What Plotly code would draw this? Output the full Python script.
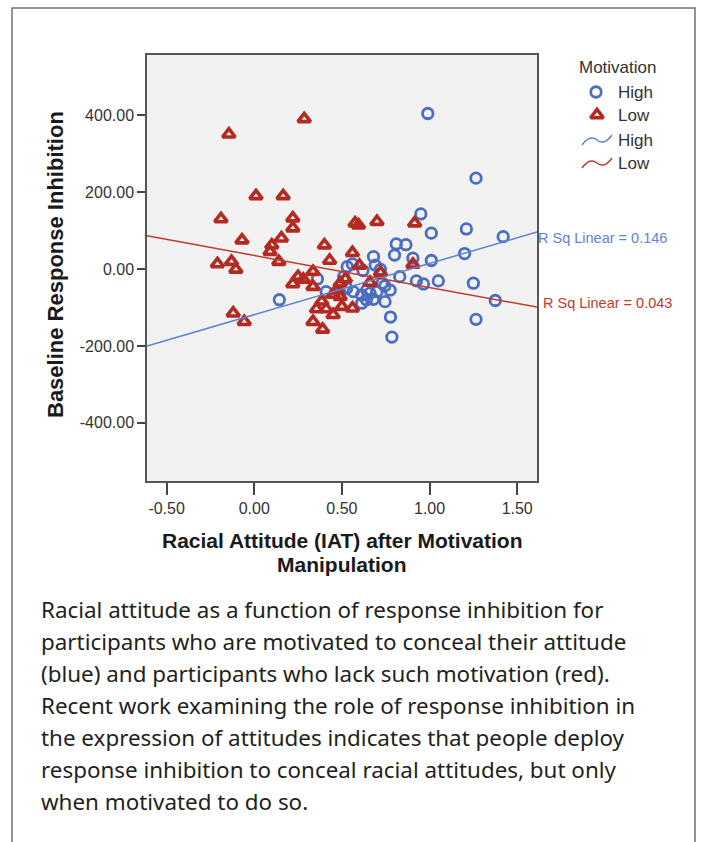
import plotly.graph_objects as go

W, H = 701, 842

# ---------------- data ----------------
high_x = [0.99, 1.265, 0.95, 1.01, 1.21, 1.42, 0.81, 0.865, 0.80, 0.905, 1.01, 1.20, 0.68,
          0.83, 0.925, 0.965, 1.05, 1.25, 1.375, 1.265, 0.777, 0.785, 0.143, 0.36, 0.41,
          0.53, 0.56, 0.51, 0.62, 0.72, 0.69, 0.73, 0.746, 0.775, 0.745, 0.68, 0.64, 0.613,
          0.565, 0.527, 0.66, 0.49, 0.613, 0.642, 0.70]
high_y = [404, 236, 143, 93, 104, 84, 65, 63, 36, 28, 22, 40, 32,
          -20, -31, -39, -31, -37, -82, -131, -125, -177, -80, -26, -59,
          6, 13, -20, -4, -1, 10, -37, -85, -55, -44, -79, -80, -89,
          -59, -50, -63, -63, -68, -55, -59]

low_x = [-0.145, 0.285, -0.19, 0.01, 0.165, 0.22, 0.22, -0.07, 0.10, 0.155, 0.09, 0.14,
         -0.21, -0.13, -0.105, 0.40, 0.43, 0.56, 0.575, 0.595, 0.70, 0.915, 0.905, 0.60,
         0.72, 0.66, 0.335, 0.25, 0.28, 0.22, 0.335, 0.49, 0.52, 0.47, 0.45, 0.49, 0.385,
         0.355, 0.41, 0.45, 0.50, 0.56, 0.335, 0.39, -0.12, -0.057]
low_y = [350, 390, 130, 190, 190, 132, 106, 75, 62, 80, 45, 19,
         13, 19, -1, 62, 22, 42, 119, 114, 123, 119, 12, 9,
         -9, -35, -7, -20, -27, -39, -46, -37, -26, -55, -66, -72, -84,
         -104, -104, -119, -98, -102, -137, -157, -115, -137]

# linear fit lines: intercept, slope, R squared
fit_high = [-118.6, 133.0, 0.146]
fit_low = [35.1, -83.2, 0.043]

x_range = [-0.612, 1.613]
y_range = [-551, 556]
x_ticks = [-0.5, 0.0, 0.5, 1.0, 1.5]
x_ticktext = ["-0.50", "0.00", "0.50", "1.00", "1.50"]
y_ticks = [-400, -200, 0, 200, 400]
y_ticktext = ["-400.00", "-200.00", "0.00", "200.00", "400.00"]

legend_title = "Motivation"
legend_labels = ["High", "Low", "High", "Low"]

x_title = ["Racial Attitude (IAT) after Motivation", "Manipulation"]
y_title = "Baseline Response Inhibition"

caption_lines = [
    "Racial attitude as a function of response inhibition for",
    "participants who are motivated to conceal their attitude",
    "(blue) and participants who lack such motivation (red).",
    "Recent work examining the role of response inhibition in",
    "the expression of attitudes indicates that people deploy",
    "response inhibition to conceal racial attitudes, but only",
    "when motivated to do so.",
]

# ---------------- styling ----------------
BLUE = "#4a6cc3"
RED = "#b52a20"
BLUE_LINE = "#5f82d2"
RED_LINE = "#c23a2e"
CHART_FONT = "Liberation Sans, Arial, sans-serif"
CAPTION_FONT = "Noto Sans, Open Sans, sans-serif"

# plot area in pixels
PL, PR, PT, PB = 147, 537, 55, 481

fig = go.Figure()

fig.add_trace(go.Scatter(
    x=high_x, y=high_y, mode="markers", xaxis="x", yaxis="y",
    marker=dict(symbol="circle-open", size=10.5, color=BLUE,
                line=dict(width=2.8, color=BLUE)),
    showlegend=False, hoverinfo="skip"))
fig.add_trace(go.Scatter(
    x=low_x, y=low_y, mode="markers", xaxis="x", yaxis="y",
    marker=dict(symbol="triangle-up-open", size=11, color=RED,
                line=dict(width=3.6, color=RED)),
    showlegend=False, hoverinfo="skip"))

for fit, col in ((fit_high, BLUE_LINE), (fit_low, RED_LINE)):
    fig.add_trace(go.Scatter(
        x=x_range, y=[fit[0] + fit[1] * v for v in x_range],
        mode="lines", xaxis="x", yaxis="y",
        line=dict(color=col, width=1.5), showlegend=False, hoverinfo="skip"))

# legend markers in a pixel-coordinate overlay subplot
fig.add_trace(go.Scatter(
    x=[596], y=[92], mode="markers", xaxis="x2", yaxis="y2",
    marker=dict(symbol="circle-open", size=10.5, color=BLUE, line=dict(width=2.8, color=BLUE)),
    showlegend=False, hoverinfo="skip"))
fig.add_trace(go.Scatter(
    x=[597], y=[115], mode="markers", xaxis="x2", yaxis="y2",
    marker=dict(symbol="triangle-up-open", size=11, color=RED, line=dict(width=3.6, color=RED)),
    showlegend=False, hoverinfo="skip"))

shapes = [
    dict(type="rect", xref="x domain", yref="y domain", x0=0, x1=1, y0=0, y1=1,
         fillcolor="#f2f2f2", line=dict(width=0), layer="below"),
    dict(type="rect", xref="x2", yref="y2", x0=12, x1=695, y0=8, y1=860,
         line=dict(color="#707070", width=1.5), fillcolor="rgba(0,0,0,0)"),
    dict(type="path", xref="x2", yref="y2",
         path="M 582,145 Q 590,134 597,140 T 612,135",
         line=dict(color=BLUE_LINE, width=1.5)),
    dict(type="path", xref="x2", yref="y2",
         path="M 582,168 Q 590,157 597,163 T 612,158",
         line=dict(color=RED_LINE, width=1.5)),
]

ann = []
ann.append(dict(xref="x2", yref="y2", x=617, y=67, text=legend_title, showarrow=False,
                xanchor="center", yanchor="middle", font=dict(family=CHART_FONT, size=17, color="#333")))
for lab, yy in zip(legend_labels, [92, 115, 140, 163]):
    ann.append(dict(xref="x2", yref="y2", x=616, y=yy, text=lab, showarrow=False,
                    xanchor="left", yanchor="middle", font=dict(family=CHART_FONT, size=17, color="#333")))

ann.append(dict(xref="x2", yref="y2", x=536, y=238, text="R Sq Linear = %.3f" % fit_high[2],
                showarrow=False, xanchor="left", yanchor="middle",
                font=dict(family=CHART_FONT, size=14.5, color=BLUE_LINE)))
ann.append(dict(xref="x2", yref="y2", x=541, y=303, text="R Sq Linear = %.3f" % fit_low[2],
                showarrow=False, xanchor="left", yanchor="middle",
                font=dict(family=CHART_FONT, size=14.5, color=RED_LINE)))

for t, yy in zip(x_title, [540, 564]):
    ann.append(dict(xref="x2", yref="y2", x=(PL + PR) / 2, y=yy, text="<b>%s</b>" % t,
                    showarrow=False, xanchor="center", yanchor="middle",
                    font=dict(family=CHART_FONT, size=21, color="#1a1a1a")))
ann.append(dict(xref="x2", yref="y2", x=55, y=265, text="<b>%s</b>" % y_title, textangle=-90,
                showarrow=False, xanchor="center", yanchor="middle",
                font=dict(family=CHART_FONT, size=22, color="#1a1a1a")))

for i, line in enumerate(caption_lines):
    ann.append(dict(xref="x2", yref="y2", x=39, y=609 + 32 * i, text=line, showarrow=False,
                    xanchor="left", yanchor="middle",
                    font=dict(family=CAPTION_FONT, size=22.4, color="#231f20")))

fig.update_layout(
    width=W, height=H, margin=dict(l=0, r=0, t=0, b=0, pad=0),
    paper_bgcolor="white", plot_bgcolor="rgba(0,0,0,0)",
    showlegend=False,
    xaxis=dict(domain=[PL / W, PR / W], range=x_range, tickvals=x_ticks, ticktext=x_ticktext,
               showgrid=False, zeroline=False, showline=True, mirror=True,
               linecolor="#555", linewidth=1.5, ticks="outside", ticklen=12, tickwidth=1.5,
               tickcolor="#444", automargin=False, fixedrange=True,
               tickfont=dict(family=CHART_FONT, size=16, color="#333"), anchor="y"),
    yaxis=dict(domain=[(H - PB) / H, (H - PT) / H], range=y_range, tickvals=y_ticks,
               ticktext=y_ticktext, showgrid=False, zeroline=False, showline=True, mirror=True,
               linecolor="#555", linewidth=1.5, ticks="outside", ticklen=8, tickwidth=1.5,
               tickcolor="#444", automargin=False, fixedrange=True,
               tickfont=dict(family=CHART_FONT, size=16, color="#333"), anchor="x"),
    xaxis2=dict(domain=[0, 1], range=[0, W], visible=False, fixedrange=True, anchor="y2"),
    yaxis2=dict(domain=[0, 1], range=[H, 0], visible=False, fixedrange=True, anchor="x2"),
    shapes=shapes, annotations=ann,
)

fig.write_html("out.html", config={"displayModeBar": False},
               post_script="document.body.style.margin='0px';")
